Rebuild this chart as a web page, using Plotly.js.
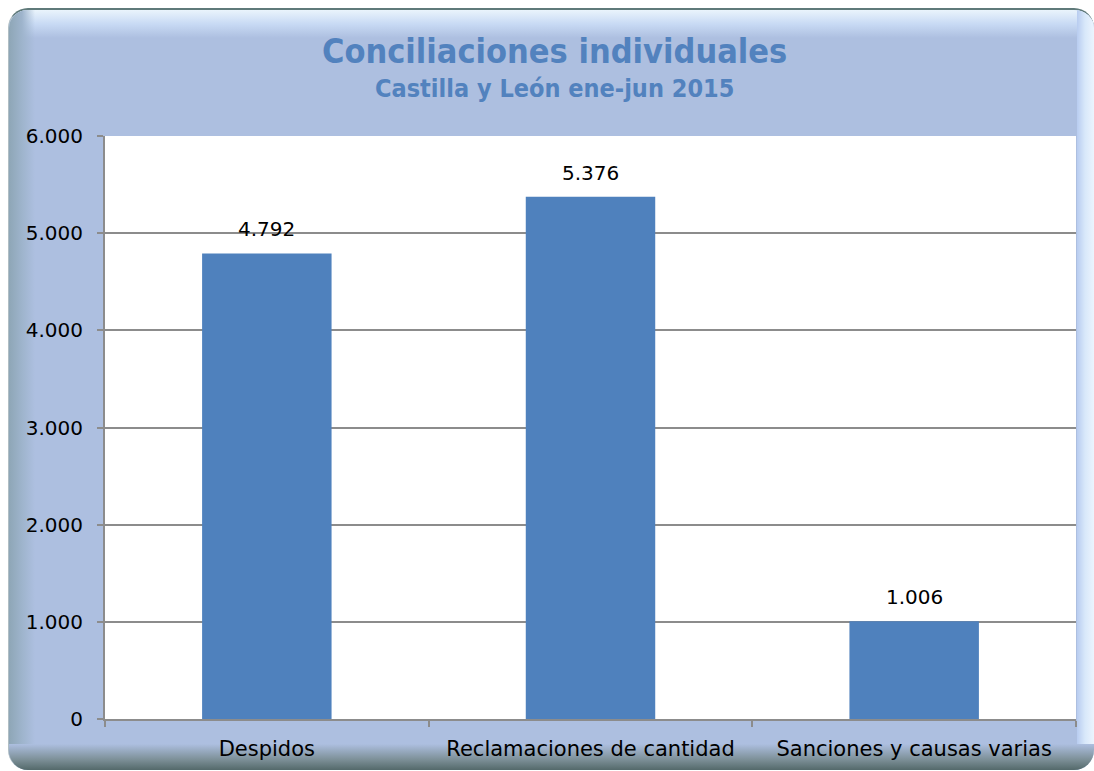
<!DOCTYPE html>
<html><head><meta charset="utf-8">
<script src="https://cdn.plot.ly/plotly-3.0.1.min.js"></script>
<style>
html,body{margin:0;padding:0;background:#fff;}
#wrap{position:relative;width:1094px;height:771px;overflow:hidden;background:#fff;}
.frame{position:absolute;left:8px;top:8px;width:1086px;height:762px;border-radius:20px;background:#ADBFE0;overflow:hidden;box-sizing:border-box;border-top:2px solid #5f7a7a;border-left:1px solid #b0bec4;}
.topg{position:absolute;left:0;top:0;width:100%;height:28px;background:linear-gradient(to bottom,#eaf4fc 0%,#c8daf4 50%,#ADBFE0 100%);}
.leftg{position:absolute;left:0;top:0;width:26px;height:100%;background:linear-gradient(to right,#8ea6b6 0%,#9eb4cc 50%,rgba(173,191,224,0) 100%);}
.rightg{position:absolute;left:1068px;top:0;width:20px;height:100%;background:linear-gradient(to right,#b8ccf0 0%,#d8e8fa 40%,#f2f8ff 100%);}
.botg{position:absolute;left:0;top:734px;width:100%;height:28px;background:linear-gradient(to bottom,#ADBFE0 0%,#7d9098 55%,#4c6262 100%);}
#chart{position:absolute;left:0;top:0;width:1094px;height:771px;}
</style></head>
<body>
<div id="wrap">
  <div class="frame"><div class="topg"></div><div class="leftg"></div><div class="rightg"></div><div class="botg"></div></div>
  <div id="chart"></div>
</div>
<script>
const categories = ["Despidos", "Reclamaciones de cantidad", "Sanciones y causas varias"];
const values = [4792, 5376, 1006];
const valueLabels = ["4.792", "5.376", "1.006"];
const titleText = "Conciliaciones individuales";
const subtitleText = "Castilla y León ene-jun 2015";

const FONT = "DejaVu Sans, sans-serif";
const TFONT = "DejaVu Sans Condensed, DejaVu Sans, sans-serif";

const annotations = categories.map((c, i) => ({
  x: c, y: values[i], xref: 'x', yref: 'y',
  text: valueLabels[i], showarrow: false,
  yanchor: 'bottom', yshift: 10,
  font: {family: FONT, size: 20, color: '#000'}
}));
annotations.push({
  xref: 'paper', yref: 'paper', x: 0.4634, y: 1.1458, xanchor: 'center', yanchor: 'middle',
  text: '<b>' + titleText + '</b>', showarrow: false,
  font: {family: TFONT, size: 34, color: '#5282BE'}
});
annotations.push({
  xref: 'paper', yref: 'paper', x: 0.4634, y: 1.0823, xanchor: 'center', yanchor: 'middle',
  text: '<b>' + subtitleText + '</b>', showarrow: false,
  font: {family: TFONT, size: 25, color: '#5282BE'}
});

const data = [{
  type: 'bar', x: categories, y: values,
  marker: {color: '#4F81BD'}, hoverinfo: 'none'
}];

const layout = {
  width: 1094, height: 771,
  margin: {l: 105, r: 18, t: 136, b: 52, pad: 0},
  paper_bgcolor: 'rgba(0,0,0,0)',
  plot_bgcolor: '#ffffff',
  separators: ',.',
  bargap: 0.6,
  showlegend: false,
  font: {family: FONT, size: 20, color: '#000'},
  xaxis: {
    type: 'category', showgrid: false, showline: true, linecolor: '#8c8c8c', linewidth: 2,
    ticks: 'outside', tickson: 'boundaries', ticklen: 6, tickcolor: '#8c8c8c', tickwidth: 2,
    ticklabelstandoff: 10,
    tickfont: {family: FONT, size: 21, color: '#000'}
  },
  yaxis: {
    range: [0, 6000], dtick: 1000, tickformat: ',d',
    showgrid: true, gridcolor: '#8c8c8c', gridwidth: 2,
    showline: true, linecolor: '#8c8c8c', linewidth: 2,
    ticks: 'outside', ticklen: 6, tickcolor: '#8c8c8c', tickwidth: 2,
    ticklabelstandoff: 10,
    zeroline: false,
    tickfont: {family: FONT, size: 20, color: '#000'}
  },
  annotations: annotations
};

Plotly.newPlot('chart', data, layout, {displayModeBar: false, staticPlot: true});
</script>
</body></html>
